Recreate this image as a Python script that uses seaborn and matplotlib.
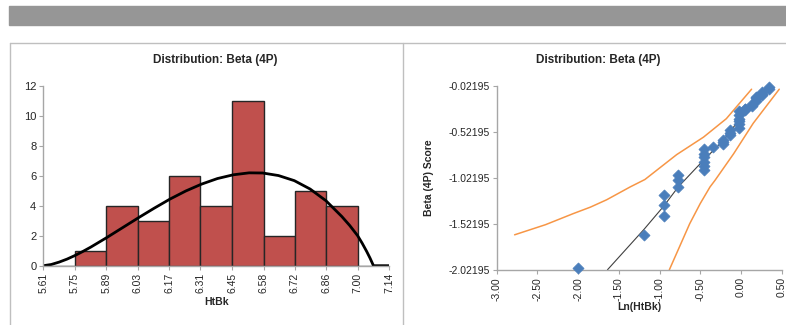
import numpy as np
import pandas as pd
import matplotlib
matplotlib.use("Agg")
import matplotlib.pyplot as plt
import matplotlib.patches as mpatches
import matplotlib.lines as mlines
import seaborn as sns

BAR_COLOR = "#C0504D"
DOT_COLOR = "#4A7EBB"
BAND_COLOR = "#F79646"
GRID_GRAY = "#A6A6A6"

# ---- left panel: histogram of HtBk ----
bin_edges = [5.61, 5.749, 5.888, 6.027, 6.166, 6.305, 6.445, 6.584, 6.723, 6.862, 7.001, 7.14]
bin_counts = [0, 1, 4, 3, 6, 4, 11, 2, 5, 4, 0]
bin_labels = ["5.61", "5.75", "5.89", "6.03", "6.17", "6.31", "6.45", "6.58",
              "6.72", "6.86", "7.00", "7.14"]

# fitted Beta (4P) curve
curve_x = [5.61, 5.645, 5.68, 5.715, 5.75, 5.785, 5.82, 5.89, 5.96, 6.03, 6.10, 6.17,
           6.24, 6.31, 6.38, 6.45, 6.52, 6.58, 6.65, 6.72, 6.79, 6.86, 6.93, 6.965,
           7.00, 7.02, 7.04, 7.055, 7.07, 7.14]
curve_y = [0.0, 0.08, 0.24, 0.44, 0.68, 0.95, 1.24, 1.87, 2.53, 3.19, 3.83, 4.44,
           4.98, 5.44, 5.81, 6.06, 6.19, 6.18, 6.01, 5.67, 5.11, 4.33, 3.28, 2.68,
           2.0, 1.5, 0.95, 0.5, 0.0, 0.0]

# ---- right panel: probability plot ----
pp_x = [-2.00, -1.19,
        -0.95, -0.95, -0.95,
        -0.77, -0.77, -0.77,
        -0.46, -0.46, -0.46, -0.46, -0.46, -0.46,
        -0.34,
        -0.22, -0.22, -0.22,
        -0.13, -0.13, -0.13,
        -0.03, -0.03, -0.03, -0.03, -0.03, -0.03,
        0.05, 0.05, 0.05,
        0.13, 0.13,
        0.19, 0.19, 0.19,
        0.26, 0.26, 0.26,
        0.34, 0.34]
pp_y = [-2.00, -1.64,
        -1.21, -1.32, -1.44,
        -0.99, -1.05, -1.12,
        -0.71, -0.76, -0.80, -0.85, -0.89, -0.94,
        -0.69,
        -0.61, -0.63, -0.65,
        -0.50, -0.53, -0.56,
        -0.30, -0.34, -0.38, -0.41, -0.44, -0.48,
        -0.27, -0.28, -0.29,
        -0.22, -0.24,
        -0.14, -0.16, -0.19,
        -0.09, -0.11, -0.12,
        -0.04, -0.06]

fit_x = [-1.64, -1.19, -0.95, -0.77, -0.46, -0.22, -0.03, 0.13, 0.30]
fit_y = [-2.02, -1.58, -1.33, -1.12, -0.83, -0.62, -0.40, -0.24, -0.05]

upper_x = [-2.78, -2.40, -2.06, -1.85, -1.65, -1.36, -1.18, -0.79, -0.46, -0.18, 0.13]
upper_y = [-1.64, -1.53, -1.41, -1.34, -1.26, -1.12, -1.04, -0.77, -0.58, -0.38, -0.06]
lower_x = [-0.88, -0.75, -0.63, -0.50, -0.38, -0.32, -0.09, 0.15, 0.47]
lower_y = [-2.02, -1.76, -1.52, -1.30, -1.12, -1.05, -0.76, -0.43, -0.06]

y_ticks = [-2.02195, -1.52195, -1.02195, -0.52195, -0.02195]
x_ticks = [-3.0, -2.5, -2.0, -1.5, -1.0, -0.5, 0.0, 0.5]

sns.set_style("white")
plt.rcParams["font.family"] = ["Liberation Sans", "DejaVu Sans"]

W, H = 786, 325
fig = plt.figure(figsize=(W / 100, H / 100), dpi=100)
fig.patch.set_facecolor("white")


def box(x0, y0, x1, y1):
    # pixel box -> figure fraction rect
    return [x0 / W, 1 - y1 / H, (x1 - x0) / W, (y1 - y0) / H]


# gray header band and panel frame
fig.patches.append(mpatches.Rectangle((9 / W, 1 - 25 / H), (W - 9) / W, 19 / H,
                                      transform=fig.transFigure, color="#969696", zorder=0))
frame_kw = dict(transform=fig.transFigure, color="#BFBFBF", lw=1)
fig.lines.append(mlines.Line2D([10 / W, 1], [1 - 43 / H] * 2, **frame_kw))
fig.lines.append(mlines.Line2D([10 / W] * 2, [0, 1 - 43 / H], **frame_kw))
fig.lines.append(mlines.Line2D([403 / W] * 2, [0, 1 - 43 / H], **frame_kw))

# ---------- left: histogram ----------
ax1 = fig.add_axes(box(43.3, 85.7, 389.3, 265.7))
centers = [(a + b) / 2 for a, b in zip(bin_edges[:-1], bin_edges[1:])]
sns.histplot(x=centers, weights=bin_counts, bins=bin_edges, ax=ax1,
             color=BAR_COLOR, alpha=1, edgecolor="#262626", linewidth=1)
sns.lineplot(x=curve_x, y=curve_y, ax=ax1, color="black", lw=2, sort=False,
             estimator=None)
ax1.set_xlim(5.61, 7.14)
ax1.set_ylim(0, 12)
ax1.set_xticks(bin_edges)
ax1.set_xticklabels(bin_labels, rotation=90, fontsize=7.5)
ax1.set_yticks(range(0, 13, 2))
ax1.tick_params(axis="y", labelsize=8)
ax1.set_xlabel("HtBk", fontsize=7.5, fontweight="bold", labelpad=3)
ax1.set_ylabel("")

# ---------- right: probability plot ----------
ax2 = fig.add_axes(box(496.7, 85.7, 781.7, 270))
sns.lineplot(x=upper_x, y=upper_y, ax=ax2, color=BAND_COLOR, lw=1.1, sort=False,
             estimator=None)
sns.lineplot(x=lower_x, y=lower_y, ax=ax2, color=BAND_COLOR, lw=1.1, sort=False,
             estimator=None)
sns.lineplot(x=fit_x, y=fit_y, ax=ax2, color="#404040", lw=0.8, sort=False,
             estimator=None)
sns.scatterplot(x=pp_x, y=pp_y, ax=ax2, marker="D", s=32, color=DOT_COLOR,
                edgecolor=DOT_COLOR, linewidth=0.5, zorder=5, clip_on=False)
ax2.set_xlim(-3.0, 0.5)
ax2.set_ylim(-2.02195, -0.02195)
ax2.set_xticks(x_ticks)
ax2.set_xticklabels([f"{v:.2f}" for v in x_ticks], rotation=90, fontsize=7.5)
ax2.set_yticks(y_ticks)
ax2.set_yticklabels([f"{v:.5f}" for v in y_ticks], fontsize=7.5)
ax2.set_xlabel("Ln(HtBk)", fontsize=7.5, fontweight="bold", labelpad=1)
ax2.set_ylabel("Beta (4P) Score", fontsize=7.5, fontweight="bold", labelpad=10)

for ax in (ax1, ax2):
    for s in ("top", "right"):
        ax.spines[s].set_visible(False)
    for s in ("left", "bottom"):
        ax.spines[s].set_color(GRID_GRAY)
        ax.spines[s].set_linewidth(1)
    ax.tick_params(length=3, color=GRID_GRAY, direction="out", pad=2,
                   left=True, bottom=True, labelcolor="#262626")
    ax.set_facecolor("none")

fig.text(215 / W, 1 - 60 / H, "Distribution: Beta (4P)", ha="center", va="center",
         fontsize=8.5, fontweight="bold")
fig.text(598 / W, 1 - 60 / H, "Distribution: Beta (4P)", ha="center", va="center",
         fontsize=8.5, fontweight="bold")

fig.savefig("out.png", dpi=100, facecolor="white")
